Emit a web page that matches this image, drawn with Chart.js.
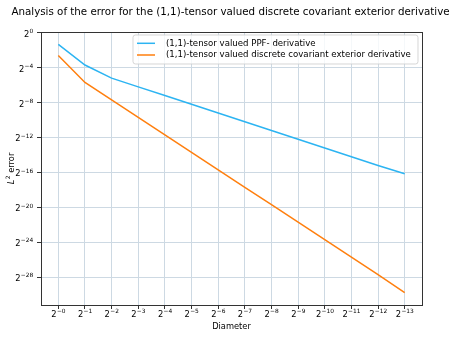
<!DOCTYPE html>
<html>
<head>
<meta charset="utf-8">
<script src="https://cdn.jsdelivr.net/npm/chart.js@4/dist/chart.umd.min.js"></script>
<style>
  html, body { margin: 0; padding: 0; background: #fff; }
  #c { display: block; }
</style>
</head>
<body>
<canvas id="c" width="457" height="337"></canvas>
<script>
// ---- data (log2 exponents) ----
const diameterExp = [0, -1, -2, -3, -4, -5, -6, -7, -8, -9, -10, -11, -12, -13];
const ppfErrorExp = [-1.34, -3.7, -5.2, -6.2, -7.2, -8.2, -9.2, -10.2, -11.2, -12.2, -13.2, -14.2, -15.2, -16.16];
const dcedErrorExp = [-2.6, -5.7, -7.7, -9.7, -11.7, -13.7, -15.7, -17.7, -19.7, -21.7, -23.7, -25.7, -27.7, -29.75];
const xTickExp = [0, -1, -2, -3, -4, -5, -6, -7, -8, -9, -10, -11, -12, -13];
const yTickExp = [0, -4, -8, -12, -16, -20, -24, -28];
const seriesNames = ['(1,1)-tensor valued PPF- derivative', '(1,1)-tensor valued discrete covariant exterior derivative'];
const titleText = 'Analysis of the error for the (1,1)-tensor valued discrete covariant exterior derivative';
const xTitle = 'Diameter';
const yTitleParts = ['L', '2', ' error'];

const FONT = 'DejaVu Sans';
const blue = '#2cb4f2';
const orange = '#ff7f0e';
const gridColor = '#cdd9e3';
const BASE = 8.3, EXP = 5.9, LEG = 8.6;

const pts = arr => diameterExp.map((e, i) => ({x: Math.pow(2, e), y: Math.pow(2, arr[i])}));
const expText = (e, forceMinus) => (e < 0 || forceMinus ? '\u2212' : '') + Math.abs(e);

function drawPow(ctx, x, baseline, exp, align) {
  ctx.font = BASE + 'px "' + FONT + '"';
  const wb = ctx.measureText('2').width;
  ctx.font = EXP + 'px "' + FONT + '"';
  const we = ctx.measureText(exp).width;
  let start = align === 'center' ? x - (wb + we) / 2 : x - (wb + we);
  ctx.textAlign = 'left';
  ctx.textBaseline = 'alphabetic';
  ctx.font = BASE + 'px "' + FONT + '"';
  ctx.fillText('2', start, baseline);
  ctx.font = EXP + 'px "' + FONT + '"';
  ctx.fillText(exp, start + wb + 0.3, baseline - 3.8);
}

const framePlugin = {
  id: 'frame',
  afterDraw(chart) {
    const {ctx, chartArea: a} = chart;
    const xs = chart.scales.x, ys = chart.scales.y;
    ctx.save();
    // axes box
    ctx.strokeStyle = '#333';
    ctx.lineWidth = 1;
    ctx.strokeRect(Math.round(a.left) + 0.5, Math.round(a.top) + 0.5, Math.round(a.right - a.left), Math.round(a.bottom - a.top));
    ctx.fillStyle = '#000';
    // tick labels
    xTickExp.forEach(e => drawPow(ctx, xs.getPixelForValue(Math.pow(2, e)), 316.7, expText(e, true), 'center'));
    yTickExp.forEach(e => drawPow(ctx, 33, ys.getPixelForValue(Math.pow(2, e)) + 4, expText(e, false), 'right'));
    // y title
    ctx.save();
    ctx.translate(12, (a.top + a.bottom) / 2);
    ctx.rotate(-Math.PI / 2);
    ctx.textBaseline = 'middle';
    ctx.textAlign = 'left';
    const fL = 'italic ' + BASE + 'px "' + FONT + '"', fS = EXP + 'px "' + FONT + '"', fR = BASE + 'px "' + FONT + '"';
    ctx.font = fL; const w1 = ctx.measureText(yTitleParts[0]).width;
    ctx.font = fS; const w2 = ctx.measureText(yTitleParts[1]).width;
    ctx.font = fR; const w3 = ctx.measureText(yTitleParts[2]).width;
    let sx = -(w1 + w2 + w3 + 0.5) / 2;
    ctx.font = fL; ctx.fillText(yTitleParts[0], sx, 0);
    ctx.font = fS; ctx.fillText(yTitleParts[1], sx + w1 + 0.5, -3.5);
    ctx.font = fR; ctx.fillText(yTitleParts[2], sx + w1 + 0.5 + w2, 0);
    ctx.restore();
    // title
    ctx.font = '10.3px "' + FONT + '"';
    ctx.textAlign = 'center';
    ctx.textBaseline = 'middle';
    ctx.fillText(titleText, 230.5, 12.5);
    // legend
    const lx = 133, ly = 35, lw = 285, lh = 29, r = 2.5;
    ctx.beginPath();
    ctx.moveTo(lx + r, ly);
    ctx.lineTo(lx + lw - r, ly); ctx.quadraticCurveTo(lx + lw, ly, lx + lw, ly + r);
    ctx.lineTo(lx + lw, ly + lh - r); ctx.quadraticCurveTo(lx + lw, ly + lh, lx + lw - r, ly + lh);
    ctx.lineTo(lx + r, ly + lh); ctx.quadraticCurveTo(lx, ly + lh, lx, ly + lh - r);
    ctx.lineTo(lx, ly + r); ctx.quadraticCurveTo(lx, ly, lx + r, ly);
    ctx.closePath();
    ctx.fillStyle = 'rgba(255,255,255,0.8)';
    ctx.fill();
    ctx.strokeStyle = 'rgba(204,204,204,0.8)';
    ctx.lineWidth = 1;
    ctx.stroke();
    const colors = [blue, orange];
    const rowsY = [43.3, 55];
    ctx.font = LEG + 'px "' + FONT + '"';
    ctx.textAlign = 'left';
    ctx.textBaseline = 'middle';
    for (let i = 0; i < 2; i++) {
      ctx.strokeStyle = colors[i];
      ctx.lineWidth = 1.5;
      ctx.beginPath();
      ctx.moveTo(137, rowsY[i]);
      ctx.lineTo(155, rowsY[i]);
      ctx.stroke();
      ctx.fillStyle = '#000';
      ctx.fillText(seriesNames[i], 166, rowsY[i]);
    }
    ctx.restore();
  }
};

new Chart(document.getElementById('c'), {
  type: 'line',
  data: {
    datasets: [
      {label: seriesNames[0], data: pts(ppfErrorExp), borderColor: blue, borderWidth: 1.5, pointRadius: 0, tension: 0, fill: false},
      {label: seriesNames[1], data: pts(dcedErrorExp), borderColor: orange, borderWidth: 1.5, pointRadius: 0, tension: 0, fill: false}
    ]
  },
  options: {
    responsive: false,
    animation: false,
    devicePixelRatio: 1,
    layout: {padding: {left: 0, right: 35, top: 32, bottom: 0}},
    plugins: {legend: {display: false}, title: {display: false}, tooltip: {enabled: false}},
    scales: {
      x: {
        type: 'logarithmic',
        reverse: true,
        min: Math.pow(2, -13.65),
        max: Math.pow(2, 0.65),
        afterBuildTicks(scale) { scale.ticks = xTickExp.map(e => ({value: Math.pow(2, e)})); },
        afterFit(scale) { scale.height = 32; },
        ticks: {autoSkip: false, maxRotation: 0, minRotation: 0, padding: 2, color: 'rgba(0,0,0,0)', font: {family: FONT, size: 8.3}, callback() { return ''; }},
        grid: {color: gridColor, lineWidth: 1, drawTicks: true, tickLength: 4, tickColor: '#333'},
        border: {display: false},
        title: {display: true, text: xTitle, color: '#000', font: {family: FONT, size: 8.3, lineHeight: 1.2}, padding: {top: 0, bottom: 5}}
      },
      y: {
        type: 'logarithmic',
        min: Math.pow(2, -31.18),
        max: Math.pow(2, 0.08),
        afterBuildTicks(scale) { scale.ticks = yTickExp.map(e => ({value: Math.pow(2, e)})); },
        afterFit(scale) { scale.width = 41; },
        ticks: {autoSkip: false, padding: 4, color: 'rgba(0,0,0,0)', font: {family: FONT, size: 8.3}, callback() { return ''; }},
        grid: {color: gridColor, lineWidth: 1, drawTicks: true, tickLength: 4, tickColor: '#333'},
        border: {display: false},
        title: {display: false}
      }
    }
  },
  plugins: [framePlugin]
});
</script>
</body>
</html>
